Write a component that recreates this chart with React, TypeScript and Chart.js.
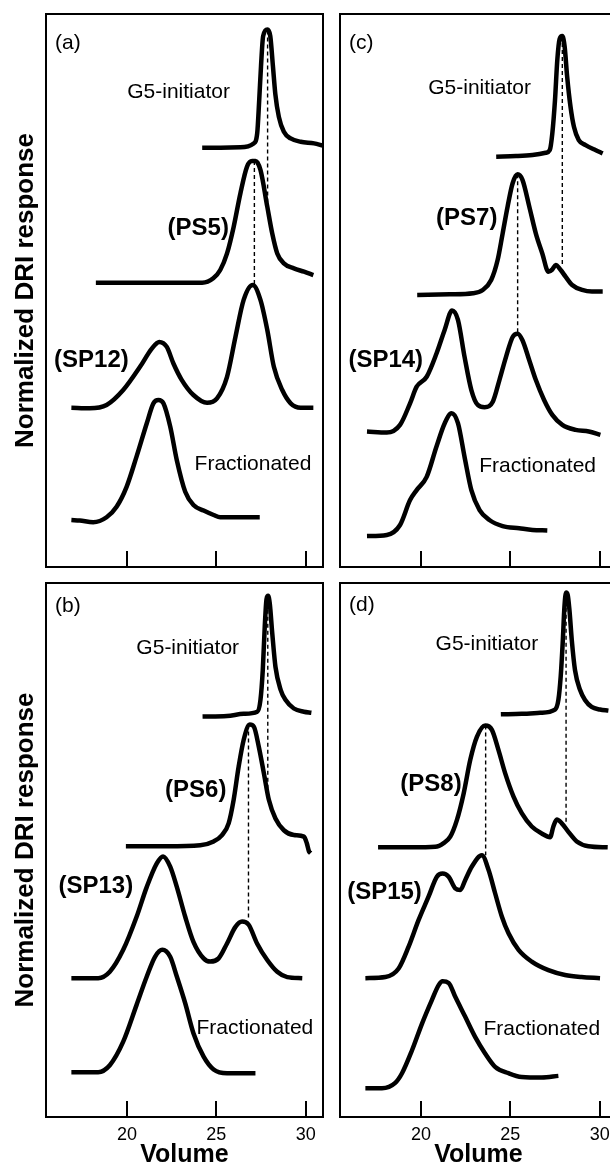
import { useEffect, useRef } from "react";
import { Chart, registerables } from "chart.js";

Chart.register(...registerables);
Chart.defaults.font.family = "'Liberation Sans', Arial, Helvetica, sans-serif";
Chart.defaults.color = "#000";

// ---------- axes ----------
const VOLUME_MIN = 15.47;
const VOLUME_MAX = 30.97;
const TICK_VALUES = [20, 25, 30];
const RESP_MIN = 0;
const RESP_MAX = 10;
const X_TITLE = "Volume";
const Y_TITLE = "Normalized DRI response";

// ---------- panel (a) ----------
const A_G5_V = [24.21, 26.35, 27.09, 27.29, 27.4, 27.5, 27.62, 27.86, 28.02, 28.17, 28.3, 28.5, 28.78, 29.16, 29.72, 30.47, 30.97];
const A_G5_R = [7.58, 7.59, 7.66, 7.85, 8.44, 9.05, 9.6, 9.72, 9.6, 9.05, 8.56, 8.14, 7.87, 7.75, 7.69, 7.66, 7.62];
const A_PS_V = [18.26, 24.21, 24.83, 25.22, 25.6, 25.97, 26.35, 26.72, 27.0, 27.19, 27.47, 27.85, 28.13, 28.41, 28.78, 29.34, 29.91, 30.43];
const A_PS_R = [5.14, 5.14, 5.22, 5.37, 5.67, 6.15, 6.76, 7.24, 7.34, 7.34, 7.18, 6.52, 6.03, 5.67, 5.49, 5.4, 5.34, 5.28];
const A_SP_V = [16.89, 17.92, 18.86, 19.79, 20.73, 21.39, 21.81, 22.23, 22.6, 23.07, 23.72, 24.48, 25.04, 25.6, 26.07, 26.53, 27.04, 27.47, 27.85, 28.22, 28.69, 29.16, 29.72, 30.43];
const A_SP_R = [2.88, 2.87, 2.93, 3.2, 3.62, 3.95, 4.07, 3.98, 3.68, 3.38, 3.11, 2.97, 3.05, 3.44, 4.16, 4.83, 5.1, 4.83, 4.29, 3.62, 3.2, 2.96, 2.88, 2.88];
const A_FR_V = [16.89, 17.36, 18.11, 18.86, 19.42, 19.98, 20.54, 21.11, 21.48, 21.76, 22.04, 22.42, 22.79, 23.26, 23.72, 24.29, 24.85, 25.22, 25.97, 27.43];
const A_FR_R = [0.85, 0.84, 0.81, 0.9, 1.09, 1.45, 2.0, 2.6, 2.96, 3.02, 2.96, 2.54, 1.93, 1.36, 1.12, 1.02, 0.94, 0.9, 0.9, 0.9];
const A_DASH_V = [27.87, 27.13];
const A_DASH_FROM = [9.7, 7.34];
const A_DASH_TO = [6.58, 5.1];

// ---------- panel (c) ----------
const C_G5_V = [24.21, 25.32, 26.24, 26.98, 27.21, 27.35, 27.5, 27.63, 27.76, 27.91, 28.04, 28.18, 28.37, 28.56, 28.83, 29.21, 29.76, 30.17];
const C_G5_R = [7.42, 7.43, 7.45, 7.49, 7.54, 7.84, 8.44, 9.17, 9.55, 9.6, 9.41, 8.87, 8.32, 7.96, 7.72, 7.63, 7.54, 7.48];
const C_PS_V = [19.79, 21.61, 22.91, 23.46, 23.93, 24.29, 24.57, 24.85, 25.13, 25.41, 25.68, 26.06, 26.43, 26.79, 27.13, 27.35, 27.54, 27.82, 28.09, 28.46, 29.02, 29.57, 30.17];
const C_PS_R = [4.92, 4.93, 4.95, 5.01, 5.19, 5.55, 6.03, 6.52, 6.94, 7.1, 7.0, 6.52, 6.03, 5.67, 5.34, 5.38, 5.46, 5.37, 5.25, 5.1, 5.01, 4.98, 4.98];
const C_SP_V = [16.98, 18.09, 18.83, 19.39, 19.76, 20.32, 20.87, 21.33, 21.74, 22.07, 22.44, 22.82, 23.18, 23.56, 24.02, 24.39, 24.76, 25.13, 25.41, 25.68, 26.06, 26.43, 26.89, 27.35, 27.91, 28.65, 29.39, 30.04];
const C_SP_R = [2.45, 2.43, 2.57, 2.96, 3.26, 3.44, 3.86, 4.29, 4.64, 4.47, 3.8, 3.2, 2.93, 2.89, 2.99, 3.38, 3.8, 4.16, 4.22, 4.1, 3.74, 3.38, 3.02, 2.75, 2.57, 2.48, 2.45, 2.39];
const C_FR_V = [16.98, 18.09, 18.83, 19.39, 19.76, 20.32, 20.87, 21.33, 21.71, 22.07, 22.44, 22.82, 23.28, 23.83, 24.57, 25.5, 26.24, 27.07];
const C_FR_R = [0.56, 0.58, 0.76, 1.21, 1.39, 1.63, 2.18, 2.6, 2.78, 2.6, 1.99, 1.39, 1.03, 0.85, 0.74, 0.7, 0.67, 0.66];
const C_DASH_V = [27.91, 25.41];
const C_DASH_FROM = [9.6, 7.1];
const C_DASH_TO = [5.46, 4.22];

// ---------- panel (b) ----------
const B_G5_V = [24.23, 25.6, 26.53, 27.29, 27.47, 27.6, 27.71, 27.81, 27.9, 27.99, 28.13, 28.31, 28.6, 28.88, 29.34, 29.9, 30.32];
const B_G5_R = [7.5, 7.51, 7.55, 7.59, 7.81, 8.37, 9.18, 9.7, 9.76, 9.62, 9.06, 8.43, 8.0, 7.81, 7.65, 7.59, 7.57];
const B_PS_V = [19.94, 22.23, 24.1, 24.85, 25.32, 25.69, 25.97, 26.25, 26.53, 26.87, 27.1, 27.38, 27.66, 27.94, 28.31, 28.78, 29.34, 29.9, 30.06, 30.19, 30.28];
const B_PS_R = [5.07, 5.07, 5.09, 5.16, 5.28, 5.5, 5.94, 6.56, 7.06, 7.35, 7.31, 6.93, 6.44, 5.94, 5.59, 5.37, 5.28, 5.25, 5.13, 4.97, 4.94];
const B_SP_V = [16.89, 18.39, 19.04, 19.79, 20.54, 21.11, 21.67, 22.02, 22.42, 22.79, 23.26, 23.72, 24.29, 24.66, 25.13, 25.6, 26.07, 26.44, 26.81, 27.28, 27.85, 28.41, 28.97, 29.81];
const B_SP_R = [2.6, 2.6, 2.72, 3.13, 3.75, 4.31, 4.75, 4.88, 4.69, 4.31, 3.75, 3.28, 2.97, 2.91, 2.97, 3.25, 3.56, 3.66, 3.6, 3.25, 2.94, 2.72, 2.62, 2.6];
const B_FR_V = [16.89, 18.39, 19.04, 19.79, 20.54, 21.11, 21.57, 21.98, 22.42, 22.79, 23.26, 23.72, 24.29, 24.85, 25.6, 27.19];
const B_FR_R = [0.84, 0.84, 0.97, 1.41, 2.1, 2.63, 3.0, 3.13, 3.0, 2.63, 2.13, 1.57, 1.13, 0.89, 0.82, 0.82];
const B_DASH_V = [27.88, 26.8];
const B_DASH_FROM = [9.76, 7.35];
const B_DASH_TO = [6.1, 3.69];

// ---------- panel (d) ----------
const D_G5_V = [24.47, 25.64, 26.67, 27.5, 27.69, 27.82, 27.93, 28.03, 28.12, 28.21, 28.31, 28.44, 28.62, 28.9, 29.18, 29.55, 30.02, 30.49];
const D_G5_R = [7.54, 7.55, 7.57, 7.63, 7.81, 8.25, 8.87, 9.56, 9.82, 9.78, 9.49, 8.93, 8.37, 8.0, 7.81, 7.68, 7.63, 7.61];
const D_PS_V = [17.6, 19.5, 20.8, 21.27, 21.64, 22.01, 22.39, 22.76, 23.13, 23.6, 23.97, 24.34, 24.71, 25.18, 25.64, 26.2, 26.76, 27.23, 27.41, 27.6, 27.88, 28.25, 28.72, 29.37, 30.45];
const D_PS_R = [5.05, 5.05, 5.06, 5.13, 5.25, 5.56, 6.06, 6.69, 7.12, 7.33, 7.25, 6.87, 6.44, 6.0, 5.69, 5.44, 5.31, 5.24, 5.44, 5.57, 5.5, 5.34, 5.16, 5.07, 5.05];
const D_SP_V = [16.89, 18.01, 18.75, 19.31, 19.87, 20.43, 20.89, 21.21, 21.55, 21.92, 22.2, 22.48, 22.85, 23.41, 23.78, 24.15, 24.53, 24.9, 25.46, 26.2, 27.13, 28.06, 28.99, 30.02];
const D_SP_R = [2.6, 2.62, 2.78, 3.19, 3.69, 4.13, 4.5, 4.56, 4.5, 4.28, 4.25, 4.44, 4.69, 4.9, 4.63, 4.19, 3.75, 3.44, 3.13, 2.91, 2.75, 2.66, 2.62, 2.6];
const D_FR_V = [16.89, 17.82, 18.56, 18.94, 19.5, 20.06, 20.61, 20.99, 21.21, 21.55, 21.92, 22.47, 23.03, 23.59, 24.15, 24.9, 25.64, 26.76, 27.69];
const D_FR_R = [0.54, 0.54, 0.64, 0.82, 1.25, 1.75, 2.19, 2.47, 2.54, 2.51, 2.25, 1.88, 1.5, 1.19, 0.94, 0.82, 0.75, 0.74, 0.77];
const D_DASH_V = [28.12, 23.62];
const D_DASH_FROM = [9.8, 7.33];
const D_DASH_TO = [5.51, 4.9];

// ---------- annotation texts ----------
const PANEL_LETTERS = ["(a)", "(c)", "(b)", "(d)"];
const G5_NAME = "G5-initiator";
const FRAC_NAME = "Fractionated";
const PS_NAMES = ["(PS5)", "(PS7)", "(PS6)", "(PS8)"];
const SP_NAMES = ["(SP12)", "(SP14)", "(SP13)", "(SP15)"];

type Label = { text: string; v: number; r: number; bold?: boolean; left?: boolean };

const PANELS = [
  {
    curves: [[A_G5_V, A_G5_R], [A_PS_V, A_PS_R], [A_SP_V, A_SP_R], [A_FR_V, A_FR_R]],
    dashes: [A_DASH_V, A_DASH_FROM, A_DASH_TO],
    labels: [
      { text: PANEL_LETTERS[0], v: 15.98, r: 9.47, left: true },
      { text: G5_NAME, v: 22.89, r: 8.58 },
      { text: PS_NAMES[0], v: 23.99, r: 6.13, bold: true },
      { text: SP_NAMES[0], v: 18.01, r: 3.74, bold: true },
      { text: FRAC_NAME, v: 27.05, r: 1.86 },
    ] as Label[],
    box: { left: 0, top: 0, width: 330, height: 580 },
    pad: { left: 0, top: 14, right: 7, bottom: 0 },
    yTitle: true,
    xLabels: false,
    xHeight: 13,
  },
  {
    curves: [[C_G5_V, C_G5_R], [C_PS_V, C_PS_R], [C_SP_V, C_SP_R], [C_FR_V, C_FR_R]],
    dashes: [C_DASH_V, C_DASH_FROM, C_DASH_TO],
    labels: [
      { text: PANEL_LETTERS[1], v: 15.98, r: 9.47, left: true },
      { text: G5_NAME, v: 23.28, r: 8.66 },
      { text: PS_NAMES[1], v: 22.56, r: 6.31, bold: true },
      { text: SP_NAMES[1], v: 18.03, r: 3.74, bold: true },
      { text: FRAC_NAME, v: 26.53, r: 1.82 },
    ] as Label[],
    box: { left: 330, top: 0, width: 300, height: 580 },
    pad: { left: 10, top: 14, right: 13, bottom: 0 },
    yTitle: false,
    xLabels: false,
    xHeight: 13,
  },
  {
    curves: [[B_G5_V, B_G5_R], [B_PS_V, B_PS_R], [B_SP_V, B_SP_R], [B_FR_V, B_FR_R]],
    dashes: [B_DASH_V, B_DASH_FROM, B_DASH_TO],
    labels: [
      { text: PANEL_LETTERS[2], v: 15.98, r: 9.57, left: true },
      { text: G5_NAME, v: 23.4, r: 8.78 },
      { text: PS_NAMES[2], v: 23.85, r: 6.12, bold: true },
      { text: SP_NAMES[2], v: 18.26, r: 4.31, bold: true },
      { text: FRAC_NAME, v: 27.16, r: 1.67 },
    ] as Label[],
    box: { left: 0, top: 575, width: 330, height: 600 },
    pad: { left: 0, top: 8, right: 7, bottom: 0 },
    yTitle: true,
    xLabels: true,
    xHeight: 58,
  },
  {
    curves: [[D_G5_V, D_G5_R], [D_PS_V, D_PS_R], [D_SP_V, D_SP_R], [D_FR_V, D_FR_R]],
    dashes: [D_DASH_V, D_DASH_FROM, D_DASH_TO],
    labels: [
      { text: PANEL_LETTERS[3], v: 15.98, r: 9.59, left: true },
      { text: G5_NAME, v: 23.69, r: 8.86 },
      { text: PS_NAMES[3], v: 20.56, r: 6.22, bold: true },
      { text: SP_NAMES[3], v: 17.96, r: 4.21, bold: true },
      { text: FRAC_NAME, v: 26.76, r: 1.65 },
    ] as Label[],
    box: { left: 330, top: 575, width: 300, height: 600 },
    pad: { left: 10, top: 8, right: 13, bottom: 0 },
    yTitle: false,
    xLabels: true,
    xHeight: 58,
  },
];

const framePlugin = {
  id: "frame",
  beforeDatasetsDraw(chart: any) {
    const { ctx, chartArea } = chart;
    const { left, top, right, bottom } = chartArea;
    ctx.save();
    ctx.strokeStyle = "#000";
    ctx.lineWidth = 2;
    ctx.strokeRect(left, top, right - left, bottom - top);
    const xs = chart.scales.x;
    for (const t of TICK_VALUES) {
      const px = Math.round(xs.getPixelForValue(t));
      ctx.beginPath();
      ctx.moveTo(px, bottom);
      ctx.lineTo(px, bottom - 16);
      ctx.stroke();
    }
    ctx.restore();
  },
};

const labelPlugin = {
  id: "panelLabels",
  afterDatasetsDraw(chart: any, _args: any, opts: any) {
    const { ctx } = chart;
    const xs = chart.scales.x;
    const ys = chart.scales.y;
    ctx.save();
    ctx.fillStyle = "#000";
    ctx.textBaseline = "middle";
    for (const l of (opts.items || []) as Label[]) {
      ctx.font = l.bold
        ? "bold 24px 'Liberation Sans', Arial, sans-serif"
        : "21px 'Liberation Sans', Arial, sans-serif";
      ctx.textAlign = l.left ? "left" : "center";
      ctx.fillText(l.text, xs.getPixelForValue(l.v), ys.getPixelForValue(l.r));
    }
    ctx.restore();
  },
};

function PanelChart({ panel }: { panel: (typeof PANELS)[number] }) {
  const ref = useRef<HTMLCanvasElement | null>(null);
  useEffect(() => {
    if (!ref.current) return;
    const curveSets = panel.curves.map(([v, r]) => ({
      data: v.map((x, i) => ({ x, y: r[i] })),
      borderColor: "#000",
      borderWidth: 4.5,
      pointRadius: 0,
      fill: false,
      cubicInterpolationMode: "monotone" as const,
      borderJoinStyle: "round" as const,
      order: 0,
    }));
    const [dv, dFrom, dTo] = panel.dashes;
    const dashSets = dv.map((x, i) => ({
      data: [
        { x, y: dFrom[i] },
        { x, y: dTo[i] },
      ],
      borderColor: "#000",
      borderWidth: 1.4,
      borderDash: [4, 3],
      pointRadius: 0,
      fill: false,
      order: 1,
    }));
    const chart = new Chart(ref.current, {
      type: "line",
      data: { datasets: [...curveSets, ...dashSets] as any },
      plugins: [framePlugin, labelPlugin],
      options: {
        animation: false,
        responsive: false,
        devicePixelRatio: 1,
        events: [],
        layout: { padding: panel.pad },
        plugins: {
          legend: { display: false },
          tooltip: { enabled: false },
          panelLabels: { items: panel.labels },
        } as any,
        scales: {
          x: {
            type: "linear",
            min: VOLUME_MIN,
            max: VOLUME_MAX,
            display: true,
            grid: { display: false, drawTicks: false },
            border: { display: false },
            afterBuildTicks: (s: any) => {
              s.ticks = TICK_VALUES.map((value) => ({ value }));
            },
            afterFit: (s: any) => {
              s.height = panel.xHeight;
            },
            ticks: {
              display: panel.xLabels,
              font: { size: 18 },
              color: "#000",
              padding: 7,
              maxRotation: 0,
            },
            title: {
              display: panel.xLabels,
              text: X_TITLE,
              font: { size: 25, weight: "bold" },
              color: "#000",
              padding: { top: 0, bottom: 5 },
            },
          },
          y: {
            type: "linear",
            min: RESP_MIN,
            max: RESP_MAX,
            display: panel.yTitle,
            grid: { display: false, drawTicks: false },
            border: { display: false },
            ticks: { display: false },
            afterFit: (s: any) => {
              s.width = panel.yTitle ? 46 : 0;
            },
            title: {
              display: panel.yTitle,
              text: Y_TITLE,
              font: { size: 26, weight: "bold" },
              color: "#000",
              padding: { top: 10, bottom: 0 },
            },
          },
        },
      } as any,
    });
    return () => chart.destroy();
  }, [panel]);
  const b = panel.box;
  return (
    <canvas
      ref={ref}
      width={b.width}
      height={b.height}
      style={{ position: "absolute", left: b.left, top: b.top, width: b.width, height: b.height }}
    />
  );
}

export default function App() {
  return (
    <div
      style={{
        position: "absolute",
        left: 0,
        top: 0,
        width: 610,
        height: 1165,
        overflow: "hidden",
        background: "#fff",
      }}
    >
      {PANELS.map((p, i) => (
        <PanelChart key={i} panel={p} />
      ))}
    </div>
  );
}
